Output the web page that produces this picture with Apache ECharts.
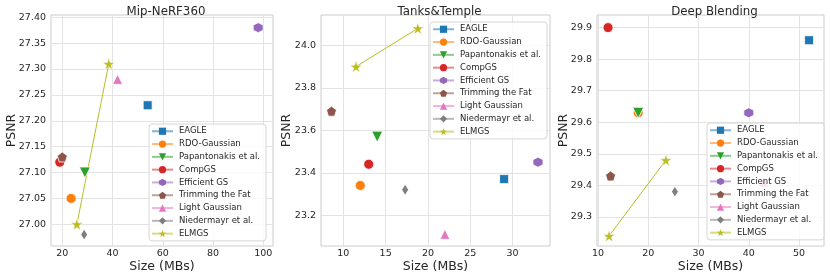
<!DOCTYPE html>
<html><head><meta charset="utf-8">
<script src="https://cdn.jsdelivr.net/npm/echarts@6/dist/echarts.min.js"></script>
<style>html,body{margin:0;padding:0;background:#fff}#c{width:830px;height:278px}</style>
</head><body><div id="c"></div>
<script>
const methods = ['EAGLE','RDO-Gaussian','Papantonakis et al.','CompGS','Efficient GS','Trimming the Fat','Light Gaussian','Niedermayr et al.'];
const colors = ['#1f77b4','#ff7f0e','#2ca02c','#d62728','#9467bd','#8c564b','#e377c2','#7f7f7f'];
const elmgsName = 'ELMGS';
const elmgsColor = '#bcbd22';
const panelTitles = ['Mip-NeRF360','Tanks&Temple','Deep Blending'];

// Mip-NeRF360
const mipSize = [54, 23.5, 29, 19, 98, 20, 42, 28.7];
const mipPsnr = [27.23, 27.05, 27.10, 27.12, 27.38, 27.13, 27.28, 26.98];
const mipElmgsSize = [25.8, 38.5];
const mipElmgsPsnr = [27.00, 27.31];
// Tanks&Temple
const tntSize = [29, 12, 14, 13, 33, 8.6, 22, 17.3];
const tntPsnr = [23.37, 23.34, 23.57, 23.44, 23.45, 23.69, 23.11, 23.32];
const tntElmgsSize = [11.5, 18.8];
const tntElmgsPsnr = [23.90, 24.08];
// Deep Blending
const dbSize = [52, 18, 18, 12, 40, 12.5, 43, 25.3];
const dbPsnr = [29.86, 29.63, 29.63, 29.90, 29.63, 29.43, 29.41, 29.38];
const dbElmgsSize = [12.2, 23.5];
const dbElmgsPsnr = [29.24, 29.48];

// tick labels
const mipXTicks = [20, 40, 60, 80, 100];
const mipYTicks = [27.00, 27.05, 27.10, 27.15, 27.20, 27.25, 27.30, 27.35, 27.40];
const tntXTicks = [10, 15, 20, 25, 30];
const tntYTicks = [23.2, 23.4, 23.6, 23.8, 24.0];
const dbXTicks = [10, 20, 30, 40, 50];
const dbYTicks = [29.3, 29.4, 29.5, 29.6, 29.7, 29.8, 29.9];

const symbols = ['rect','circle','triangle','circle',
  'path://M5,0 L9.33,2.5 L9.33,7.5 L5,10 L0.67,7.5 L0.67,2.5 Z',
  'path://M5,0 L10,3.8 L8.1,10 L1.9,10 L0,3.8 Z',
  'triangle','diamond'];
const symbolRot = [0,0,180,0,0,0,0,0];
const symbolSizes = [9, 10, 11, 10, 10, 10, 10, [7, 11]];
const starPath = 'path://M50,0 L61.8,35.5 L99,35.5 L69,57.5 L80.5,93 L50,71 L19.5,93 L31,57.5 L1,35.5 L38.2,35.5 Z';

const panels = [
  {size: mipSize, psnr: mipPsnr, es: mipElmgsSize, ep: mipElmgsPsnr, xt: mipXTicks, yt: mipYTicks, xd: 0, yd: 2,
   xmin: 15.5, xmax: 103.9, ymin: 26.958, ymax: 27.4044, left: 51, width: 222, yGap: 33, leg: {left: 149, top: 124}},
  {size: tntSize, psnr: tntPsnr, es: tntElmgsSize, ep: tntElmgsPsnr, xt: tntXTicks, yt: tntYTicks, xd: 0, yd: 1,
   xmin: 7.36, xmax: 34.42, ymin: 23.055, ymax: 24.143, left: 321, width: 229, yGap: 28, leg: {left: 430, top: 22}},
  {size: dbSize, psnr: dbPsnr, es: dbElmgsSize, ep: dbElmgsPsnr, xt: dbXTicks, yt: dbYTicks, xd: 0, yd: 1,
   xmin: 9.8, xmax: 54.97, ymin: 29.208, ymax: 29.94, left: 597, width: 227, yGap: 27, leg: {left: 707, top: 123}}
];

const font = 'DejaVu Sans';
const txt = '#262626';
const grids = [], xAxes = [], yAxes = [], series = [], titles = [], legends = [];
const legendNames = methods.concat([elmgsName]);

panels.forEach((p, i) => {
  grids.push({left: p.left, top: 15, width: p.width, height: 231, show: true, borderColor: '#cccccc', borderWidth: 1,
    backgroundColor: '#fff', containLabel: false, outerBoundsMode: 'none'});
  titles.push({text: panelTitles[i], left: p.left + p.width / 2 - 1, textAlign: 'center', top: 1,
    textStyle: {fontFamily: font, fontSize: 11.8, fontWeight: 'normal', color: txt}});
  xAxes.push({type: 'value', gridIndex: i, min: p.xmin, max: p.xmax,
    name: 'Size (MBs)', nameLocation: 'middle', nameGap: 14, nameMoveOverlap: false,
    nameTextStyle: {fontFamily: font, fontSize: 12.5, color: txt},
    axisLine: {show: false}, axisTick: {show: false, customValues: p.xt},
    axisLabel: {customValues: p.xt, fontFamily: font, fontSize: 9.5, color: txt, margin: 3,
      formatter: v => v.toFixed(p.xd)},
    splitLine: {show: true, lineStyle: {color: '#e3e3e3', width: 1}}});
  yAxes.push({type: 'value', gridIndex: i, min: p.ymin, max: p.ymax,
    name: 'PSNR', nameLocation: 'middle', nameGap: p.yGap, nameRotate: 90, nameMoveOverlap: false,
    nameTextStyle: {fontFamily: font, fontSize: 12.5, color: txt},
    axisLine: {show: false}, axisTick: {show: false, customValues: p.yt},
    axisLabel: {customValues: p.yt, fontFamily: font, fontSize: 9.5, color: txt, margin: 5,
      formatter: v => v.toFixed(p.yd)},
    splitLine: {show: true, lineStyle: {color: '#e3e3e3', width: 1}}});
  methods.forEach((m, k) => {
    series.push({type: 'line', name: m, xAxisIndex: i, yAxisIndex: i,
      data: [[p.size[k], p.psnr[k]]],
      symbol: symbols[k], symbolSize: symbolSizes[k], symbolRotate: symbolRot[k],
      showSymbol: true, color: colors[k],
      itemStyle: {color: colors[k], borderColor: '#fff', borderWidth: 0.8},
      lineStyle: {color: colors[k], width: 1}, z: 3, animation: false});
  });
  series.push({type: 'line', name: elmgsName, xAxisIndex: i, yAxisIndex: i,
    data: p.es.map((s, k) => [s, p.ep[k]]),
    symbol: starPath, symbolSize: 12, showSymbol: true, color: elmgsColor,
    itemStyle: {color: elmgsColor, borderColor: '#fff', borderWidth: 0.6},
    lineStyle: {color: elmgsColor, width: 1}, z: 3, animation: false});
  legends.push({data: legendNames, orient: 'vertical', left: p.leg.left, top: p.leg.top,
    backgroundColor: 'rgba(255,255,255,0.8)', borderColor: '#d6d6d6', borderWidth: 1, borderRadius: 3,
    padding: [2, 6, 2, 2], itemGap: 2.3, itemWidth: 21, itemHeight: 9,
    selectedMode: false, z: 10,
    itemStyle: {borderWidth: 0},
    lineStyle: {opacity: 0.55},
    textStyle: {fontFamily: font, fontSize: 8.5, color: txt, lineHeight: 10.5, padding: [0, 0, 0, 1]}});
});

const chart = echarts.init(document.getElementById('c'), null, {renderer: 'canvas'});
chart.setOption({
  backgroundColor: '#fff', animation: false,
  title: titles, grid: grids, xAxis: xAxes, yAxis: yAxes, legend: legends, series: series
});
</script></body></html>
